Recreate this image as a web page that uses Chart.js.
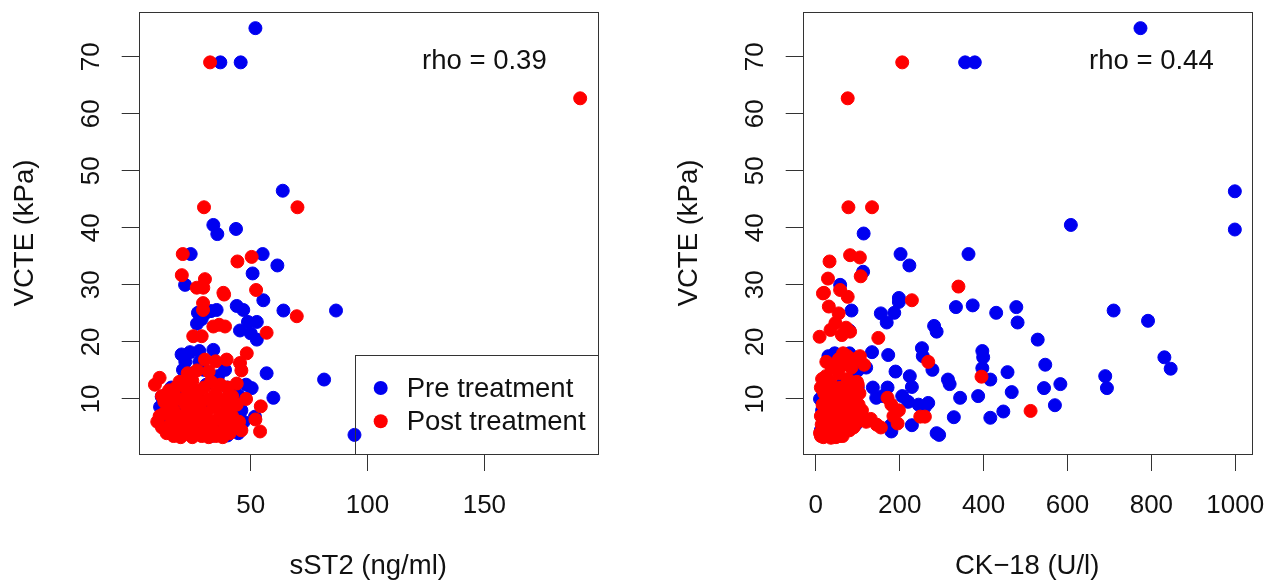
<!DOCTYPE html>
<html>
<head>
<meta charset="utf-8">
<script src="https://cdn.jsdelivr.net/npm/chart.js@4.4.1/dist/chart.umd.min.js"></script>
<style>
  html, body { margin: 0; padding: 0; background: #fff; }
  #wrap { position: relative; width: 1284px; height: 588px; overflow: hidden; }
  canvas { position: absolute; top: 0; }
  #left { left: 0; }
  #right { left: 664px; }
</style>
</head>
<body>
<div id="wrap">
  <canvas id="left" width="620" height="588"></canvas>
  <canvas id="right" width="620" height="588"></canvas>
</div>
<script>
// ---- data ----
const seriesNames = ['Pre treatment', 'Post treatment'];
const vcteTicks = [10, 20, 30, 40, 50, 60, 70];
const sst2Ticks = [50, 100, 150];
const ck18Ticks = [0, 200, 400, 600, 800, 1000];
const rhoLabels = ['rho = 0.39', 'rho = 0.44'];

// [sST2, VCTE]
const sst2Pre = [
  [52,75],[37,69],[45.7,69],[63.7,46.5],[34,40.5],[35.7,38.9],[43.7,39.8],[24.3,35.4],[55.1,35.4],
  [61.4,33.4],[50.8,32],[21.9,30],[55.4,27.3],[27.4,25.1],[30.5,25],[33,25.4],[35.4,25.6],[44,26.3],
  [46.8,25.6],[48.8,23.5],[52.6,23.5],[45.4,22],[50,21.5],[52.6,20.4],[64,25.5],[86.5,25.5],[27,23.2],
  [29,24],[20.4,17.8],[24,18.2],[28,18.4],[34,18.6],[22,16.5],[28,16.5],[21,15.1],[30,15.1],[39,15.1],
  [56.8,14.5],[59.7,10.2],[50.4,11.9],[44.7,4],[81.4,13.4],[94.4,3.7],[51.8,6.9],[11.9,10.4],[11.2,8.6],
  [48,12.5],[46,8],[42,5.5],[15,5],[18,7],[20,9],[22,4],[25,6],[27,11],[30,8],[32,5],[35,10],[38,7],
  [40,12],[16,12],[24,13],[29,4],[33,3.5],[36,6],[41,9],[43,11.5],[14,6.5],[19,11],[26,8.5],[31,12.5],
  [37,4.5],[23,10],[13,9],[17,4],[40,3.6],[45,10.5],[47,6],[36,14],[25,14.5]
];
const sst2Post = [
  [32.6,69],[191,62.7],[30,43.6],[70,43.6],[20.9,35.4],[44.3,34.1],[50.4,34.9],[20.5,31.7],[30.4,31],
  [26.9,29.5],[29.7,29.5],[52.3,29.1],[38.3,28.6],[38.6,28.3],[29.6,26.8],[29.6,25.6],[56.8,21.6],
  [69.7,24.5],[34,22.7],[36.5,23],[39,22.7],[25.4,21],[29,21],[30.4,16.9],[35,16.6],[39.7,16.9],
  [45.4,16.3],[48.3,18],[9,12.5],[11,13.7],[48,10],[54.3,8.7],[52,6.4],[54,4.3],[44,12.7],[46,15],
  [10,6],[12,5],[13,7.5],[14,4],[15,9],[15,11.5],[16,6],[17,3.5],[17,8],[18,12],[18,5],[19,10],
  [20,3.3],[20,7],[21,12.5],[21,5.5],[22,9],[22,3.8],[23,11],[23,6.5],[24,8],[24,4.5],[25,13.2],
  [25,10],[25,3.3],[26,6],[27,8.5],[27,4],[28,11.5],[28,7],[29,3.5],[29,9.5],[30,5.5],[30,12],
  [31,7.5],[31,4],[32,10],[32,3.3],[33,6],[33,13],[34,8.5],[34,4.5],[35,11],[35,3.5],[36,6.5],
  [36,9.5],[37,12.5],[37,4],[38,7.5],[38,3.3],[39,10],[39,5.5],[40,8.5],[40,12],[41,4],[41,6.5],
  [42,10.5],[42,7],[43,5],[44,9],[45,6],[46,4.5],[16.5,10],[19.5,13],[26,11.5],[13,9.5],[11,7],
  [12,10.5],[23,14.5],[27,15],[32,14.8]
];

// [CK-18, VCTE]
const ck18Pre = [
  [774,75],[356,69],[379,69],[999,46.4],[999,39.7],[608,40.5],[114,39],[364,35.4],[202,35.4],
  [223,33.4],[112.7,32.3],[58,30],[198,27.7],[334,26.1],[374,26.4],[430,25.1],[478,26.1],[481,23.4],
  [710,25.5],[792,23.7],[529,20.4],[397,18.4],[399,17.3],[397,15.4],[547,16],[831,17.3],[846,15.3],
  [690,14],[694,11.9],[416,13.4],[457,14.7],[315,13.4],[319,12.6],[583,12.6],[544,11.9],[467,11.2],
  [344,10.2],[387,10.5],[570,8.9],[447,7.8],[329,6.8],[416,6.7],[294,3.7],[85,25.5],[155,25],
  [187,25.1],[198,27],[169,23.4],[282,22.8],[288,21.8],[134,18.2],[172.6,17.7],[253,18.9],[255,17.5],
  [278,15.1],[190,14.8],[224,14],[229,12.1],[136,12],[144,10.2],[160,10.5],[171,12],[206,10.5],
  [220,9.5],[245,9],[260,8.6],[268,9.3],[229,5.4],[180,4.3],[179,5.4],[288,4],[80,22],[10,10],
  [12,4.5],[20,6],[30,17.5],[45,18],[60,17.5],[80,18],[90,15],[100,15],[100,12],[70,8],[50,5],
  [25,12],[110,7],[40,9],[65,13],[95,5.5],[15,8],[120,15.5],[85,10.5]
];
const ck18Post = [
  [206,69],[76,62.7],[77.7,43.6],[134,43.6],[32.7,34.1],[81.7,35.2],[105,34.8],[107,31.5],[29,31.1],
  [19.4,28.6],[17,28.5],[58,29.1],[76,27.9],[229,27.3],[340,29.7],[31,26.2],[54.4,25],[9,20.9],
  [35,22.1],[46.7,23.3],[62,21.2],[81.7,21.8],[72,22.5],[149,20.7],[268,16.5],[395,13.9],[512,7.9],
  [171,10.2],[180,9],[198,8],[185,7],[195,5.7],[249,6.9],[260,6.9],[131,6.5],[145,5.5],[155,5],
  [120,6],[110,8],[100,12.5],[115,16],[105,17.5],[95,17],[85,15.5],[25,16.5],
  [10,4],[12,7],[12,12],[14,5.5],[16,9],[18,3.3],[20,11],[22,6.5],[24,14],[26,4],[28,8.5],[30,12.5],
  [32,3.5],[34,6],[36,10],[38,15.5],[40,4.5],[42,8],[44,12],[46,5.5],[48,3.3],[50,10.5],[52,7],
  [54,14.5],[56,4],[58,9],[60,12],[62,6],[64,3.5],[66,10],[68,16],[70,7.5],[72,5],[74,11.5],
  [76,13.5],[78,8.5],[80,4.5],[82,10],[84,6.5],[86,12.5],[88,8],[90,5],[92,11],[94,9.5],[96,7],
  [98,13],[100,6],[102,9],[104,11],[15,13.5],[25,10],[35,13],[45,16],[55,17],[65,18],[75,17.5],
  [12,3.5],[20,4.5],[30,7],[40,6.5],[50,8],[60,5.5],[70,9.5],[80,6],[36,3.2],[58,3.5]
];

// ---- drawing ----
const FONT = 'Arial, "Liberation Sans", sans-serif';
const INK = '#111';
const BLUE = '#0000f0';
const RED = '#ff0000';

function toPoints(pairs) {
  return pairs.map(p => ({ x: p[0], y: p[1] }));
}

// box around the plot, rotated y tick labels, rho text and R-style legend
const rFrame = {
  id: 'rFrame',
  afterDraw(chart, args, opts) {
    const { ctx, chartArea: a, scales } = chart;
    ctx.save();
    ctx.strokeStyle = '#333';
    ctx.lineWidth = 1;
    ctx.strokeRect(Math.round(a.left) + 0.5, Math.round(a.top) + 0.5,
      Math.round(a.right - a.left), Math.round(a.bottom - a.top));

    ctx.fillStyle = INK;
    ctx.font = '26px ' + FONT;
    ctx.textAlign = 'center';
    ctx.textBaseline = 'alphabetic';
    vcteTicks.forEach(v => {
      ctx.save();
      ctx.translate(a.left - 40, scales.y.getPixelForValue(v));
      ctx.rotate(-Math.PI / 2);
      ctx.fillText(String(v), 0, 0);
      ctx.restore();
    });

    ctx.font = '27.5px ' + FONT;
    ctx.fillText(opts.rho, scales.x.getPixelForValue(opts.rhoAt[0]),
      scales.y.getPixelForValue(opts.rhoAt[1]) + 12);

    if (opts.legend) {
      const w = 242.7, h = 99.3;
      const lx = a.right - w, ly = a.bottom - h;
      ctx.strokeStyle = '#333';
      ctx.strokeRect(Math.round(lx) + 0.5, Math.round(ly) + 0.5, Math.round(w), Math.round(h));
      const cols = [BLUE, RED];
      ctx.textAlign = 'left';
      ctx.textBaseline = 'middle';
      seriesNames.forEach((name, i) => {
        const cy = ly + 33.3 + i * 33.3;
        ctx.beginPath();
        ctx.arc(lx + 25.7, cy, 7, 0, Math.PI * 2);
        ctx.fillStyle = cols[i];
        ctx.fill();
        ctx.fillStyle = INK;
        ctx.fillText(name, lx + 51.7, cy + 1);
      });
    }
    ctx.restore();
  }
};

function makeChart(id, pre, post, xTicks, xMin, xMax, xTitle, rho, rhoAt, legend) {
  const tickGrid = { drawOnChartArea: false, drawTicks: true, tickLength: 17, color: '#333', lineWidth: 1 };
  return new Chart(document.getElementById(id), {
    type: 'scatter',
    data: {
      datasets: [
        { label: seriesNames[0], data: toPoints(pre), backgroundColor: BLUE, borderColor: BLUE,
          borderWidth: 1, pointRadius: 6.5, order: 1 },
        { label: seriesNames[1], data: toPoints(post), backgroundColor: RED, borderColor: RED,
          borderWidth: 1, pointRadius: 6.5, order: 0 }
      ]
    },
    options: {
      responsive: false,
      animation: false,
      events: [],
      layout: { padding: { top: 12, right: 22.3, left: 0, bottom: 0 } },
      plugins: {
        legend: { display: false },
        tooltip: { enabled: false },
        rFrame: { rho: rho, rhoAt: rhoAt, legend: legend }
      },
      scales: {
        x: {
          type: 'linear', min: xMin, max: xMax,
          afterBuildTicks: s => { s.ticks = xTicks.map(v => ({ value: v })); },
          afterFit: s => { s.height = 134; },
          grid: tickGrid,
          border: { display: false },
          ticks: { color: INK, font: { family: FONT, size: 26 }, padding: 19, maxRotation: 0,
                   autoSkip: false, callback: v => String(v) },
          title: { display: true, text: xTitle, color: INK, font: { family: FONT, size: 27.5 },
                   padding: { top: 0, bottom: 5 } }
        },
        y: {
          type: 'linear', min: 0.35, max: 77.83,
          afterBuildTicks: s => { s.ticks = vcteTicks.map(v => ({ value: v })); },
          afterFit: s => { s.width = 138.7; },
          grid: tickGrid,
          border: { display: false },
          ticks: { display: false },
          title: { display: true, text: 'VCTE (kPa)', color: INK, font: { family: FONT, size: 27.5 },
                   padding: { top: 9.4, bottom: 0 } }
        }
      }
    },
    plugins: [rFrame]
  });
}

makeChart('left', sst2Pre, sst2Post, sst2Ticks, 2.05, 198.5, 'sST2 (ng/ml)', rhoLabels[0], [150, 70], true);
makeChart('right', ck18Pre, ck18Post, ck18Ticks, -31.3, 1039, 'CK\u221218 (U/l)', rhoLabels[1], [800, 70], false);
</script>
</body>
</html>
